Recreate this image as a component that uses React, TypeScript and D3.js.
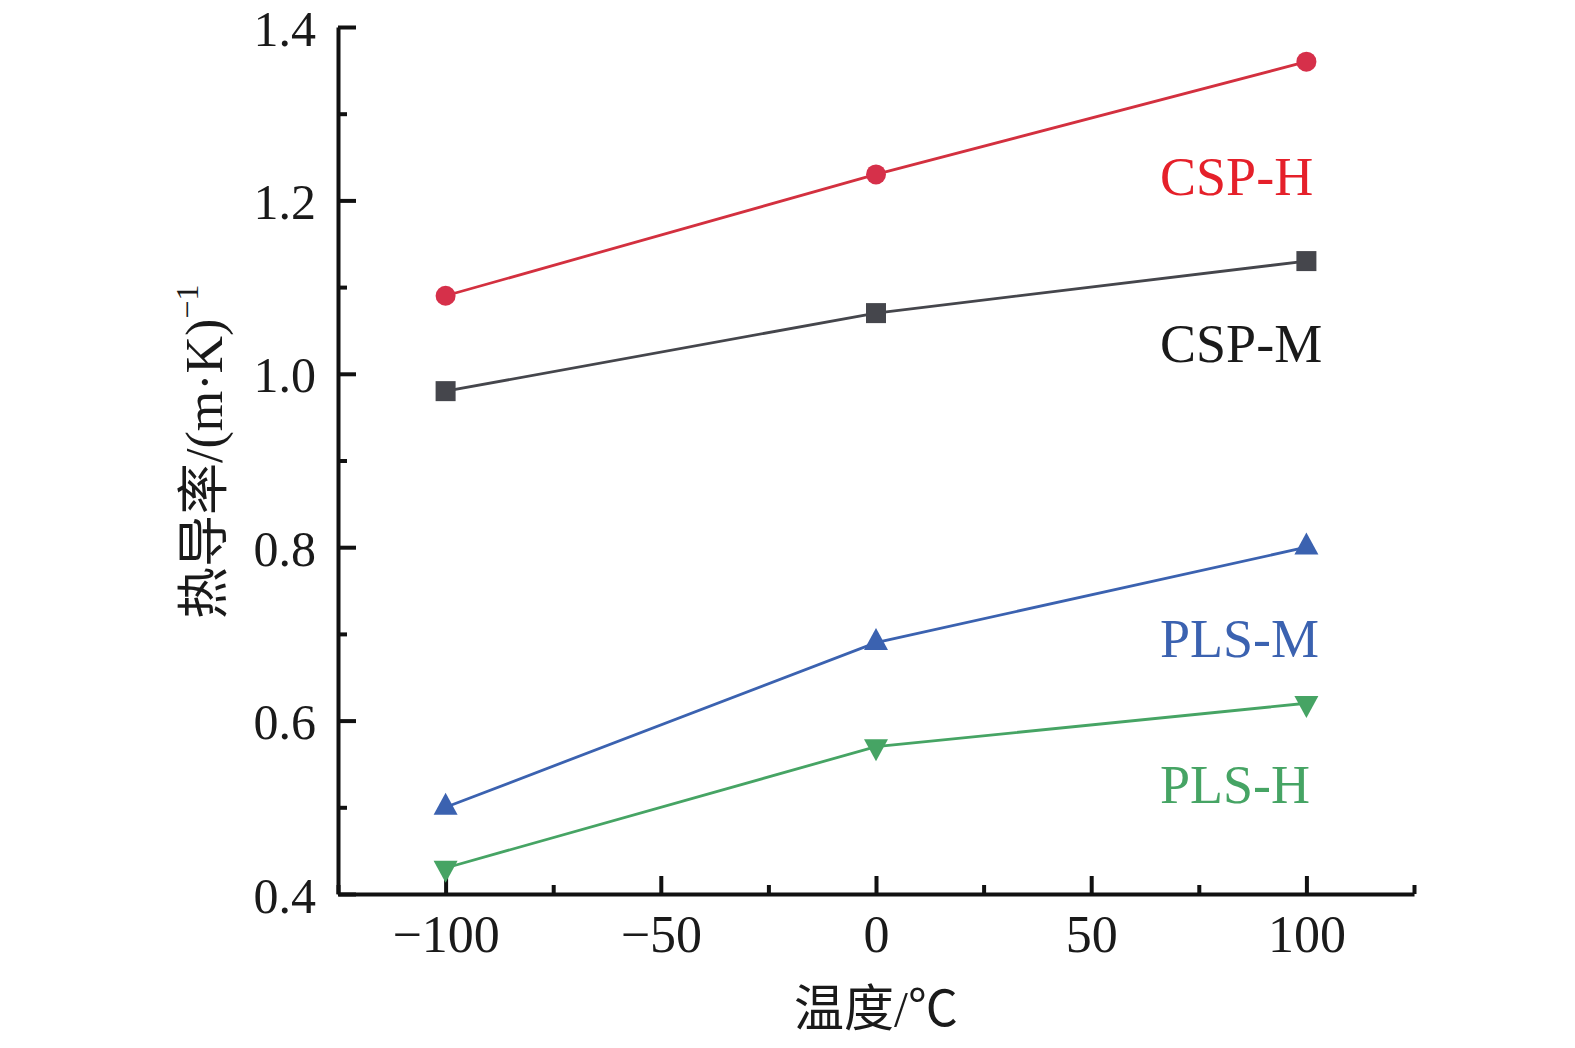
import React, { useEffect, useRef } from "react";
import * as d3 from "d3";

// temperature (°C) on the x axis
const temperatures = [-100, 0, 100];

// thermal conductivity per sample
const cspH = [1.09, 1.23, 1.36];
const cspM = [0.98, 1.07, 1.13];
const plsM = [0.5, 0.69, 0.8];
const plsH = [0.43, 0.57, 0.62];

const seriesNames = ["CSP-H", "CSP-M", "PLS-M", "PLS-H"];
const seriesValues = [cspH, cspM, plsM, plsH];

// label anchors in data units (x, y of baseline start)
const labelX = [66, 66, 66, 66];
const labelY = [1.206, 1.014, 0.673, 0.505];

const xTicks = [-100, -50, 0, 50, 100];
const xMinorTicks = [-125, -75, -25, 25, 75, 125];
const yTicks = [0.4, 0.6, 0.8, 1.0, 1.2, 1.4];
const yMinorTicks = [0.5, 0.7, 0.9, 1.1, 1.3];

const WIDTH = 1575;
const HEIGHT = 1048;

const styles = [
  { line: "#d3303f", marker: "#d6304a", label: "#e5202a", shape: "circle" },
  { line: "#45464c", marker: "#45464c", label: "#1a1a1a", shape: "square" },
  { line: "#3b62b0", marker: "#3b62b0", label: "#3b62b0", shape: "up" },
  { line: "#46a464", marker: "#46a464", label: "#46a464", shape: "down" },
];

const SERIF = '"Liberation Serif", "Times New Roman", "Noto Sans CJK SC", serif';

const App: React.FC = () => {
  const svgRef = useRef<SVGSVGElement>(null);

  useEffect(() => {
    if (!svgRef.current) return;
    const svg = d3.select(svgRef.current);
    svg.selectAll("*").remove();

    const x = d3.scaleLinear().domain([-125, 125]).range([338, 1414]);
    const y = d3.scaleLinear().domain([0.4, 1.4]).range([894, 27]);

    // axes
    const axisColor = "#111";
    const xAxis = svg
      .append("g")
      .attr("transform", `translate(0, ${y(0.4)})`)
      .call(
        d3
          .axisBottom(x)
          .tickValues(xTicks)
          .tickSizeInner(-18)
          .tickSizeOuter(0)
          .tickPadding(21)
      );
    svg
      .append("g")
      .attr("transform", `translate(0, ${y(0.4)})`)
      .call(
        d3
          .axisBottom(x)
          .tickValues(xMinorTicks)
          .tickSizeInner(-9)
          .tickSizeOuter(0)
          .tickFormat(() => "")
      )
      .call((g) => g.select(".domain").remove());

    const yAxis = svg
      .append("g")
      .attr("transform", `translate(${x(-125)}, 0)`)
      .call(
        d3
          .axisLeft(y)
          .tickValues(yTicks)
          .tickSizeInner(-18)
          .tickSizeOuter(0)
          .tickPadding(22)
          .tickFormat(d3.format(".1f"))
      );
    svg
      .append("g")
      .attr("transform", `translate(${x(-125)}, 0)`)
      .call(
        d3
          .axisLeft(y)
          .tickValues(yMinorTicks)
          .tickSizeInner(-9)
          .tickSizeOuter(0)
          .tickFormat(() => "")
      )
      .call((g) => g.select(".domain").remove());

    svg
      .selectAll(".domain, .tick line")
      .attr("stroke", axisColor)
      .attr("stroke-width", 4);
    svg
      .selectAll(".tick text")
      .attr("fill", "#1a1a1a")
      .attr("font-family", SERIF);
    xAxis.selectAll(".tick text").attr("font-size", 52);
    yAxis.selectAll(".tick text").attr("font-size", 50).attr("dy", "0.36em");

    // lines and markers
    const line = d3
      .line<number>()
      .x((_, i) => x(temperatures[i]))
      .y((d) => y(d));

    seriesValues.forEach((values, si) => {
      const st = styles[si];
      const g = svg.append("g");
      g.append("path")
        .attr("d", line(values) || "")
        .attr("fill", "none")
        .attr("stroke", st.line)
        .attr("stroke-width", 2.8);

      values.forEach((v, i) => {
        const cx = x(temperatures[i]);
        const cy = y(v);
        if (st.shape === "circle") {
          g.append("circle")
            .attr("cx", cx)
            .attr("cy", cy)
            .attr("r", 10)
            .attr("fill", st.marker);
        } else if (st.shape === "square") {
          g.append("rect")
            .attr("x", cx - 10)
            .attr("y", cy - 10)
            .attr("width", 20)
            .attr("height", 20)
            .attr("fill", st.marker);
        } else {
          const dir = st.shape === "up" ? 1 : -1;
          const h = 22;
          const w = 24;
          const pts = [
            [cx, cy - (dir * h * 2) / 3],
            [cx - w / 2, cy + (dir * h) / 3],
            [cx + w / 2, cy + (dir * h) / 3],
          ];
          g.append("path")
            .attr("d", `M${pts.map((p) => p.join(",")).join("L")}Z`)
            .attr("fill", st.marker);
        }
      });

      svg
        .append("text")
        .attr("x", x(labelX[si]))
        .attr("y", y(labelY[si]))
        .attr("font-family", SERIF)
        .attr("font-size", 54)
        .attr("fill", st.label)
        .text(seriesNames[si]);
    });

    // axis titles
    svg
      .append("text")
      .attr("x", x(0))
      .attr("y", 1026)
      .attr("text-anchor", "middle")
      .attr("font-family", SERIF)
      .attr("font-size", 50)
      .attr("fill", "#1a1a1a")
      .text("温度/℃");

    const yTitle = svg
      .append("text")
      .attr("transform", `translate(222, ${y(0.91)}) rotate(-90)`)
      .attr("text-anchor", "middle")
      .attr("font-family", SERIF)
      .attr("font-size", 52)
      .attr("fill", "#1a1a1a");
    yTitle.append("tspan").text("热导率/(m·K)");
    yTitle
      .append("tspan")
      .attr("font-size", 32)
      .attr("dy", -24)
      .text("−1");
  }, []);

  return (
    <svg
      ref={svgRef}
      width={WIDTH}
      height={HEIGHT}
      viewBox={`0 0 ${WIDTH} ${HEIGHT}`}
      style={{ position: "absolute", left: 0, top: 0, background: "#fff" }}
    />
  );
};

export default App;
